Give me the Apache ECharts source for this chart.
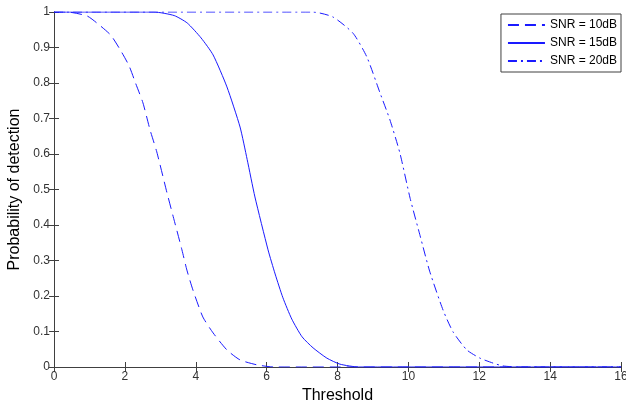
<!DOCTYPE html>
<html>
<head>
<meta charset="utf-8">
<script src="https://cdn.jsdelivr.net/npm/echarts@6/dist/echarts.min.js"></script>
<style>
  html, body { margin: 0; padding: 0; background: #fff; }
  #main { width: 626px; height: 405px; }
</style>
</head>
<body>
<div id="main"></div>
<script>
// threshold values
var x10 = [0, 0.37, 0.93, 1.21, 1.6, 1.89, 2.12, 2.3, 2.51, 2.71, 2.9, 3.19, 3.4, 3.61, 3.75, 3.92, 4.2, 4.49, 4.88, 5.25, 5.73, 6.2, 16]
var p10 = [1, 1, 0.989, 0.969, 0.935, 0.89, 0.848, 0.8, 0.744, 0.668, 0.606, 0.49, 0.41, 0.33, 0.273, 0.217, 0.141, 0.096, 0.048, 0.02, 0.006, 0, 0]

var x15 = [0, 2.82, 3.39, 3.76, 4.15, 4.49, 4.88, 5.25, 5.45, 5.67, 6.04, 6.24, 6.46, 6.71, 7.0, 7.31, 7.7, 8.07, 8.6, 16]
var p15 = [1, 1, 0.99, 0.969, 0.927, 0.879, 0.789, 0.676, 0.585, 0.479, 0.33, 0.262, 0.195, 0.135, 0.085, 0.054, 0.025, 0.008, 0, 0]

var x20 = [0, 7.3, 7.87, 8.44, 8.83, 9.2, 9.48, 9.76, 10.05, 10.33, 10.6, 10.98, 11.26, 11.65, 12.02, 12.39, 12.67, 13.1, 16]
var p20 = [1, 1, 0.986, 0.94, 0.873, 0.772, 0.696, 0.603, 0.475, 0.37, 0.27, 0.16, 0.099, 0.048, 0.025, 0.011, 0.003, 0, 0]

var names = ['SNR = 10dB', 'SNR = 15dB', 'SNR = 20dB']

function pairs(xs, ys) {
  return xs.map(function (v, i) { return [v, ys[i]] })
}

var axisColor = '#404040'
var font = 'Arial, Liberation Sans'
var myChart = echarts.init(document.getElementById('main'))

function series(name, xs, ys, dash) {
  return {
    name: name,
    type: 'line',
    smooth: 0.2,
    symbol: 'none',
    lineStyle: { color: '#1a1aff', width: 1, type: dash },
    itemStyle: { color: '#1a1aff' },
    data: pairs(xs, ys)
  }
}

var option = {
  animation: false,
  grid: { left: 54, right: 5, top: 12, bottom: 38, outerBoundsMode: 'none' },
  legend: {
    right: 5,
    top: 14,
    orient: 'vertical',
    itemWidth: 37,
    itemHeight: 10,
    itemGap: 6,
    padding: [5, 4, 5, 6],
    borderColor: '#404040',
    borderWidth: 1,
    backgroundColor: '#fff',
    itemStyle: { opacity: 0 },
    textStyle: { fontFamily: font, fontSize: 12, color: '#000' },
    data: names
  },
  xAxis: [{
    type: 'value',
    min: 0, max: 16, interval: 2,
    name: 'Threshold',
    nameLocation: 'middle',
    nameGap: 21,
    nameTextStyle: { fontFamily: font, fontSize: 16, color: '#000' },
    axisLine: { show: true, lineStyle: { color: axisColor } },
    axisTick: { show: true, inside: true, length: 5, lineStyle: { color: axisColor } },
    axisLabel: { fontFamily: font, fontSize: 12, color: '#333', margin: 4 },
    splitLine: { show: false }
  }, {
    type: 'value',
    position: 'top',
    min: 0, max: 16, interval: 2,
    axisLine: { show: true, lineStyle: { color: axisColor } },
    axisTick: { show: true, inside: true, length: 5, lineStyle: { color: axisColor } },
    axisLabel: { show: false },
    splitLine: { show: false }
  }],
  yAxis: [{
    type: 'value',
    min: 0, max: 1, interval: 0.1,
    name: 'Probability of detection',
    nameLocation: 'middle',
    nameGap: 28,
    nameTextStyle: { fontFamily: font, fontSize: 16, color: '#000' },
    axisLine: { show: true, lineStyle: { color: axisColor } },
    axisTick: { show: true, inside: true, length: 5, lineStyle: { color: axisColor } },
    axisLabel: { fontFamily: font, fontSize: 12, color: '#333', margin: 4 },
    splitLine: { show: false }
  }, {
    type: 'value',
    position: 'right',
    min: 0, max: 1, interval: 0.1,
    axisLine: { show: true, lineStyle: { color: axisColor } },
    axisTick: { show: true, inside: true, length: 5, lineStyle: { color: axisColor } },
    axisLabel: { show: false },
    splitLine: { show: false }
  }],
  series: [
    series(names[0], x10, p10, [11, 6]),
    series(names[1], x15, p15, 'solid'),
    series(names[2], x20, p20, [9, 4, 2, 4])
  ]
}

myChart.setOption(option)
</script>
</body>
</html>
